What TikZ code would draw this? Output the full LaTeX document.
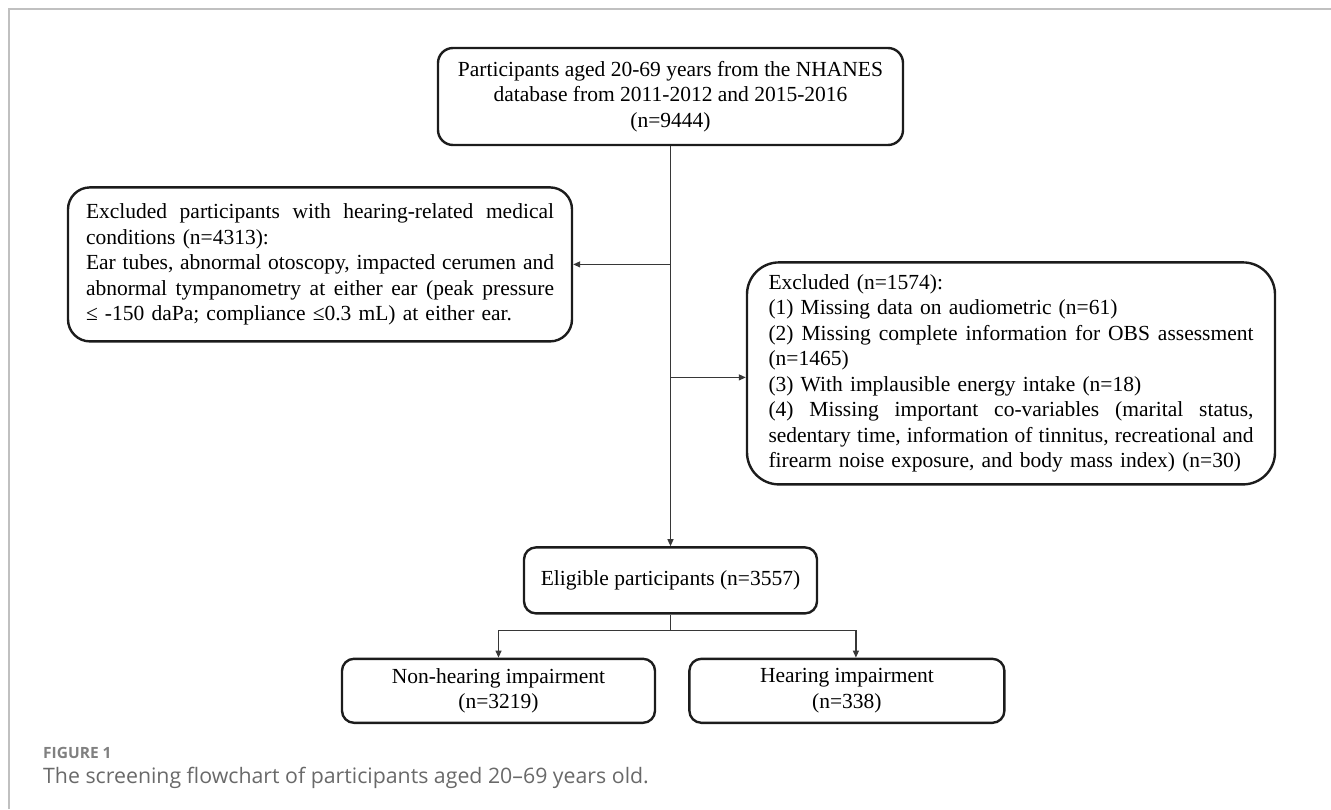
\documentclass[tikz,border=0pt]{standalone}
\usepackage{fontspec}
\setmainfont{Liberation Serif}
\newfontfamily\captionfont{Open Sans}
\usepackage{xcolor}
\definecolor{boxline}{RGB}{28,28,28}
\definecolor{linkline}{RGB}{55,55,55}
\definecolor{framegray}{RGB}{192,192,192}
\definecolor{capgray}{RGB}{105,105,105}
\usepackage{tikz}
\usetikzlibrary{arrows.meta,positioning}
\newcommand{\fullrow}[2][468pt]{\hbox to #1{\frenchspacing\spaceskip=0.25em plus 1fil\relax #2}}
\newcommand{\shortrow}[2][468pt]{\hbox to #1{#2\hfil}}

\begin{document}
\begin{tikzpicture}[
  x=1pt, y=-1pt,
  flowbox/.style={draw=boxline, line width=2.4pt, rounded corners=12pt, inner sep=0pt, align=center, font=\fontsize{21.5pt}{25.5pt}\selectfont},
  flow/.style={-{Triangle[length=7pt,width=6pt]}, line width=1.2pt, color=linkline},
  link/.style={line width=1.2pt, color=linkline},
  figlabel/.style={anchor=base west, inner sep=0pt, text=capgray!85, font=\captionfont\bfseries\fontsize{15.5pt}{18pt}\selectfont},
  figtext/.style={anchor=base west, inner sep=0pt, text=capgray, font=\captionfont\fontsize{21.3pt}{24pt}\selectfont}
]
\useasboundingbox (0,0) rectangle (1331,809);
\draw[framegray, line width=1.6pt] (9,809) -- (9,9) -- (1331,9);

\node[flowbox, minimum width=465pt, minimum height=97pt, rounded corners=15pt] (source) at (670.5,96.5) {Participants aged 20-69 years from the NHANES\\database from 2011-2012 and 2015-2016\\(n=9444)};
\node[flowbox, text width=468pt, minimum width=504pt, minimum height=154pt, rounded corners=22pt, below=40pt of source, xshift=-350.5pt] (exclear) {%
  \fullrow{Excluded participants with hearing-related medical}
  \shortrow{conditions (n=4313):}
  \fullrow{Ear tubes, abnormal otoscopy, impacted cerumen and}
  \fullrow{abnormal tympanometry at either ear (peak pressure}
  \shortrow{≤ -150 daPa; compliance ≤0.3 mL) at either ear.}};
\node[flowbox, text width=485pt, minimum width=528pt, minimum height=222pt, rounded corners=32pt, below=115pt of source, xshift=340.5pt] (excmiss) {%
  \shortrow[485pt]{Excluded (n=1574):}
  \shortrow[485pt]{(1) Missing data on audiometric (n=61)}
  \fullrow[485pt]{(2) Missing complete information for OBS assessment}
  \shortrow[485pt]{(n=1465)}
  \shortrow[485pt]{(3) With implausible energy intake (n=18)}
  \fullrow[485pt]{(4) Missing important co-variables (marital status,}
  \fullrow[485pt]{sedentary time, information of tinnitus, recreational and}
  \shortrow[485pt]{firearm noise exposure, and body mass index) (n=30)}};
\node[flowbox, minimum width=293pt, minimum height=66pt, below=400pt of source] (eligible) {Eligible participants (n=3557)};
\node[flowbox, minimum width=313pt, minimum height=64pt, below=43pt of eligible, xshift=-172pt] (nonhi) {Non-hearing impairment\\(n=3219)};
\node[flowbox, minimum width=315pt, minimum height=64pt, right=32pt of nonhi] (hi) {Hearing impairment\\(n=338)};

\coordinate (missin) at ([yshift=-4pt]excmiss.west);
\draw[flow] (source) -- (eligible);
\draw[flow] (source.south |- exclear.east) -- (exclear.east);
\draw[flow] (source.south |- missin) -- (missin);
\draw[link] (eligible.south) -- ++(0,16) coordinate (split);
\draw[flow] (split) -| (nonhi.north);
\draw[flow] (split) -| ([xshift=9pt]hi.north);

\node[figlabel] (fignum) at (43,758) {FIGURE 1};
\node[figtext] (figcap) at (43,783) {The screening flowchart of participants aged 20–69 years old.};
\end{tikzpicture}
\end{document}
